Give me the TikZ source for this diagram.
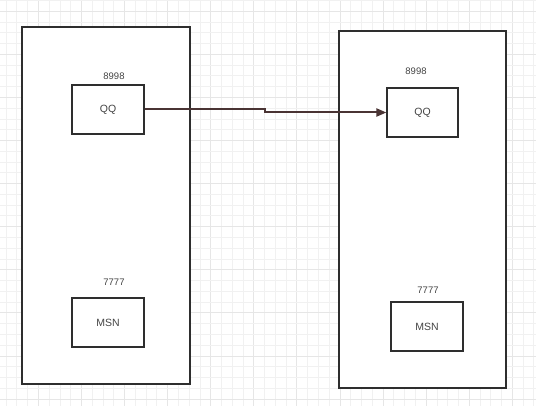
\documentclass[tikz,border=0pt]{standalone}
\usepackage{fontspec}
\setmainfont{Liberation Sans}
\usetikzlibrary{arrows.meta}
\definecolor{gridminor}{HTML}{F1F1F1}
\definecolor{gridmajor}{HTML}{E6E6E6}
\definecolor{boxline}{HTML}{2E2E2E}
\definecolor{arrline}{HTML}{4A3434}
\definecolor{txt}{HTML}{444444}
\tikzset{
  container/.style={draw=boxline, line width=1.4pt, fill=white, inner sep=0pt},
  app/.style={draw=boxline, line width=1.2pt, fill=white, inner sep=0pt, text=txt, font=\fontsize{10.5}{12}\selectfont},
  port/.style={text=txt, inner sep=0pt, font=\fontsize{9.5}{11}\selectfont},
  link/.style={draw=arrline, line width=2pt, -{Triangle[length=10pt,width=8pt]}}
}
\begin{document}
\begin{tikzpicture}[x=1pt,y=-1pt]
\useasboundingbox (0,0) rectangle (536,406);
\fill[white] (0,0) rectangle (536,406);
% grid
\foreach \i in {0,...,50} {
  \pgfmathsetmacro{\gx}{6.1+10.77*\i}
  \pgfmathtruncatemacro{\m}{mod(\i,4)}
  \ifnum\m=3 \draw[gridmajor, line width=0.8pt] (\gx,0) -- (\gx,406);
  \else \draw[gridminor, line width=0.8pt] (\gx,0) -- (\gx,406); \fi
}
\foreach \i in {0,...,38} {
  \pgfmathsetmacro{\gy}{0.5+10.77*\i}
  \pgfmathtruncatemacro{\m}{mod(\i,4)}
  \ifnum\m=1 \draw[gridmajor, line width=0.8pt] (0,\gy) -- (536,\gy);
  \else \draw[gridminor, line width=0.8pt] (0,\gy) -- (536,\gy); \fi
}
% containers
\node[container, minimum width=168pt, minimum height=357pt] (hostL) at (106,205.5) {};
\node[container, minimum width=167pt, minimum height=357pt] (hostR) at (422.5,209.5) {};
% apps
\node[app, minimum width=72pt, minimum height=49pt] (qqL) at (108,109.5) {QQ};
\node[app, minimum width=71pt, minimum height=49pt] (qqR) at (422.5,112.5) {QQ};
\node[app, minimum width=72pt, minimum height=49pt] (msnL) at (108,322.5) {MSN};
\node[app, minimum width=72pt, minimum height=49pt] (msnR) at (427,326.5) {MSN};
% ports
\node[port] (pqqL) at (114,76) {8998};
\node[port] (pqqR) at (416,71) {8998};
\node[port] (pmsnL) at (114,282) {7777};
\node[port] (pmsnR) at (428,290) {7777};
% connector
\coordinate (s1) at (265,109.5);
\coordinate (s2) at (265,112.5);
\draw[link] (qqL.east) -- (s1) -- (s2) -- (qqR.west);
\end{tikzpicture}
\end{document}
